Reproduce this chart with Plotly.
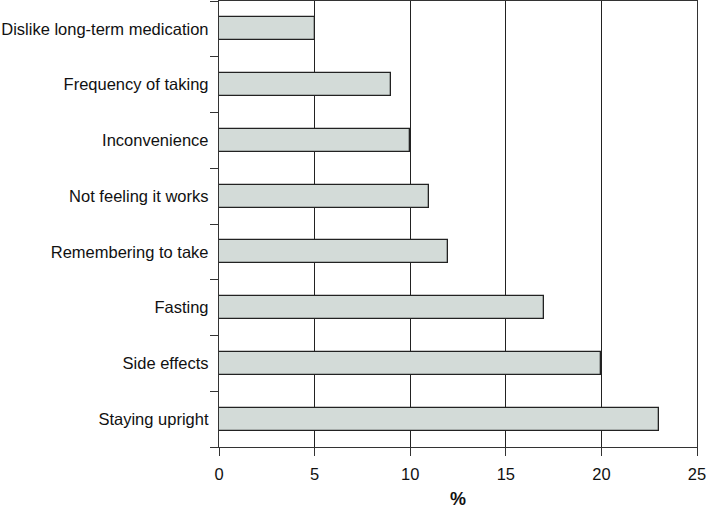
import plotly.graph_objects as go

categories = [
    "Staying upright",
    "Side effects",
    "Fasting",
    "Remembering to take",
    "Not feeling it works",
    "Inconvenience",
    "Frequency of taking",
    "Dislike long-term medication",
]
values = [23, 20, 17, 12, 11, 10, 9, 5]
x_ticks = [0, 5, 10, 15, 20, 25]
x_title = "%"

fig = go.Figure(
    go.Bar(
        x=values,
        y=categories,
        orientation="h",
        width=0.41,
        marker=dict(color="#d3dbd8", line=dict(color="#222222", width=1.3)),
    )
)

font_family = "Liberation Sans, Arial, sans-serif"
plot_h = 509 - 1 - 62

fig.update_layout(
    width=706,
    height=509,
    margin=dict(l=219, r=9, t=1, b=62, autoexpand=False),
    paper_bgcolor="white",
    plot_bgcolor="white",
    showlegend=False,
    font=dict(family=font_family, size=16.5, color="#111111"),
    bargap=0,
    annotations=[
        dict(
            text="<b>" + x_title + "</b>",
            x=0.5, xref="paper",
            y=-52 / plot_h, yref="paper",
            xanchor="center", yanchor="middle",
            showarrow=False,
            font=dict(size=18, family=font_family, color="#111111"),
        )
    ],
)

fig.update_xaxes(
    range=[0, 25],
    tickvals=x_ticks,
    ticktext=[str(v) for v in x_ticks],
    showgrid=True,
    gridcolor="#222222",
    gridwidth=1.4,
    zeroline=False,
    showline=True,
    linecolor="#333333",
    linewidth=1.4,
    mirror=True,
    ticks="outside",
    ticklen=8,
    tickcolor="#333333",
    tickwidth=1.3,
    ticklabelstandoff=4,
    ticklabeloverflow="allow",
    tickfont=dict(size=16.5, family=font_family),
    automargin=False,
)

fig.update_yaxes(
    type="category",
    categoryorder="array",
    categoryarray=categories,
    range=[-0.5, len(categories) - 0.5],
    showgrid=False,
    zeroline=False,
    showline=True,
    linecolor="#333333",
    linewidth=1.4,
    mirror=True,
    ticks="outside",
    tickson="boundaries",
    ticklen=8,
    tickcolor="#333333",
    tickwidth=1.3,
    ticklabelstandoff=6,
    ticklabeloverflow="allow",
    tickfont=dict(size=16.5, family=font_family),
    automargin=False,
)

fig.write_html(
    "out.html",
    config={"displayModeBar": False},
    post_script="document.body.style.margin='0';document.body.style.padding='0';",
)
